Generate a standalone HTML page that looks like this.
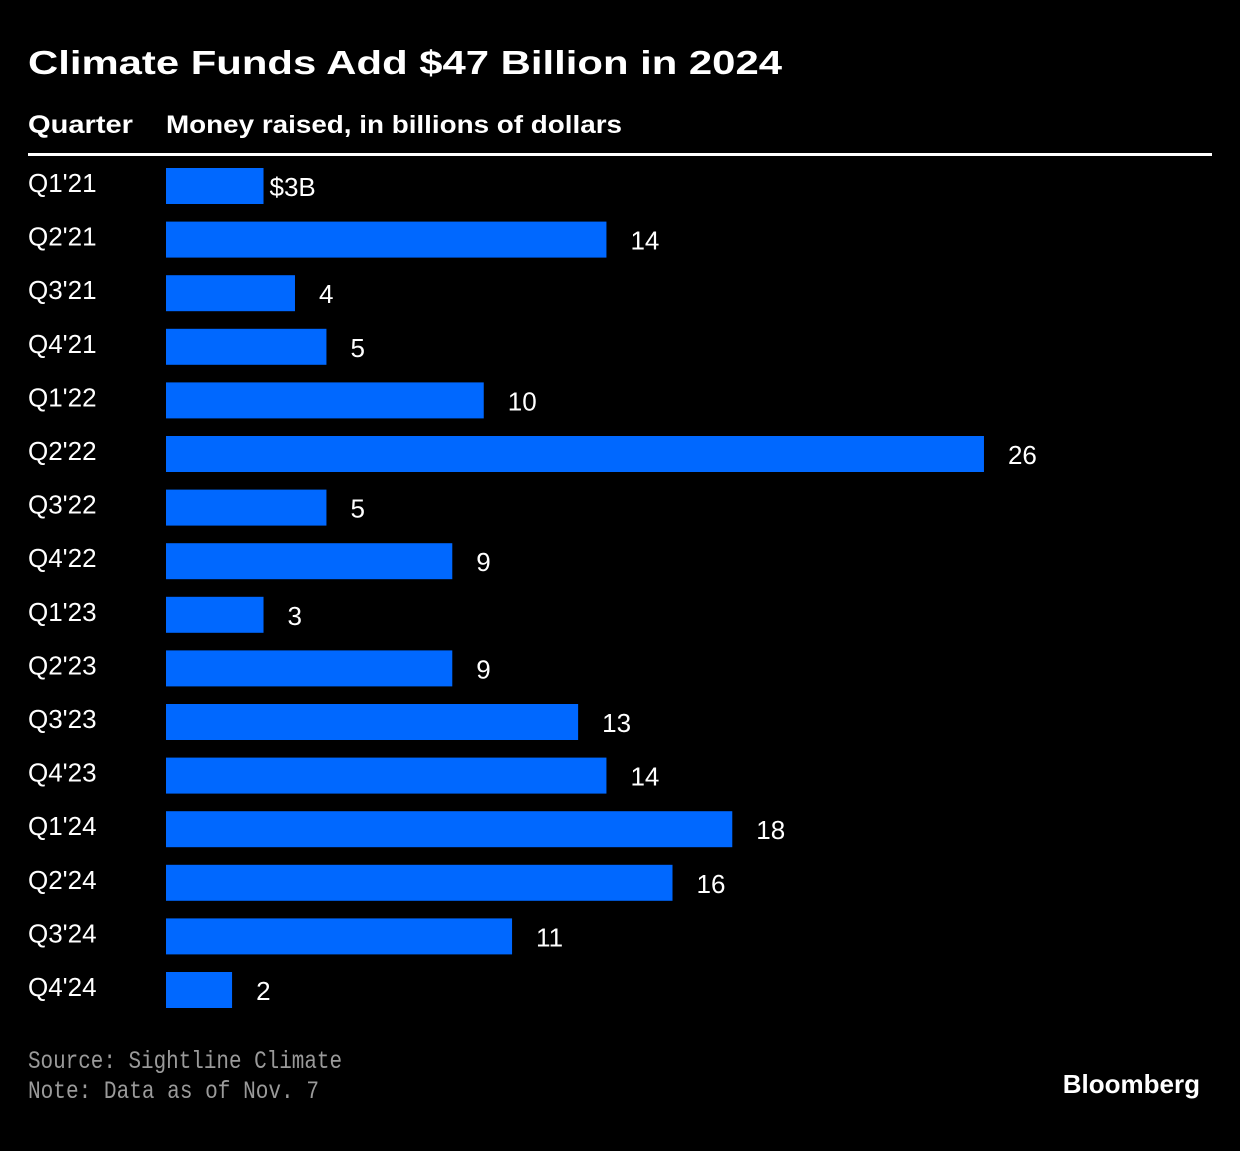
<!DOCTYPE html>
<html><head><meta charset="utf-8"><style>
body{margin:0;background:#000;width:1240px;height:1146px;overflow:hidden;font-family:"Liberation Sans",sans-serif;color:#fff}
</style></head><body>
<svg width="1240" height="1146" id="c">
<text x="28" y="74" font-size="33" font-weight="bold" fill="#fff" textLength="754" lengthAdjust="spacingAndGlyphs">Climate Funds Add $47 Billion in 2024</text>
<text x="28" y="133" font-size="25" font-weight="bold" fill="#fff" textLength="105" lengthAdjust="spacingAndGlyphs">Quarter</text>
<text x="166" y="133" font-size="25" font-weight="bold" fill="#fff" textLength="456" lengthAdjust="spacingAndGlyphs">Money raised, in billions of dollars</text>
<rect x="28" y="153" width="1184" height="3" fill="#fff"/>
<g id="bars"></g>
<text x="28" y="1068" font-size="25" font-family="Liberation Mono, monospace" fill="#9a9a9a" textLength="314" lengthAdjust="spacingAndGlyphs">Source: Sightline Climate</text>
<text x="28" y="1098" font-size="25" font-family="Liberation Mono, monospace" fill="#9a9a9a" textLength="291" lengthAdjust="spacingAndGlyphs">Note: Data as of Nov. 7</text>
<text x="1200" y="1093" font-size="26" font-weight="bold" text-anchor="end" fill="#fff">Bloomberg</text>
</svg>
<script>
const categories=["Q1'21","Q2'21","Q3'21","Q4'21","Q1'22","Q2'22","Q3'22","Q4'22","Q1'23","Q2'23","Q3'23","Q4'23","Q1'24","Q2'24","Q3'24","Q4'24"];
const values=[3.1,14.0,4.1,5.1,10.1,26.0,5.1,9.1,3.1,9.1,13.1,14.0,18.0,16.1,11.0,2.1];
const valueLabels=["$3B","14","4","5","10","26","5","9","3","9","13","14","18","16","11","2"];
const NS="http://www.w3.org/2000/svg";
const g=document.getElementById('bars');
const x=v=>166+v*31.46;
const y=i=>168+i*53.6;
categories.forEach((c,i)=>{
 const r=document.createElementNS(NS,'rect');
 r.setAttribute('x',166);r.setAttribute('y',y(i));r.setAttribute('width',x(values[i])-166);r.setAttribute('height',36);r.setAttribute('fill','#0068ff');
 
 
 g.appendChild(r);
 const t=document.createElementNS(NS,'text');
 t.setAttribute('x',28);t.setAttribute('y',y(i)+24);t.setAttribute('font-size',26);t.setAttribute('fill','#fff');t.textContent=c;
 
 
 g.appendChild(t);
 const v=document.createElementNS(NS,'text');
 v.setAttribute('x',x(values[i])+(i==0?6:24));v.setAttribute('y',y(i)+28);v.setAttribute('font-size',26);v.setAttribute('fill','#fff');v.textContent=valueLabels[i];
 
 
 g.appendChild(v);
});
</script>
</body></html>
